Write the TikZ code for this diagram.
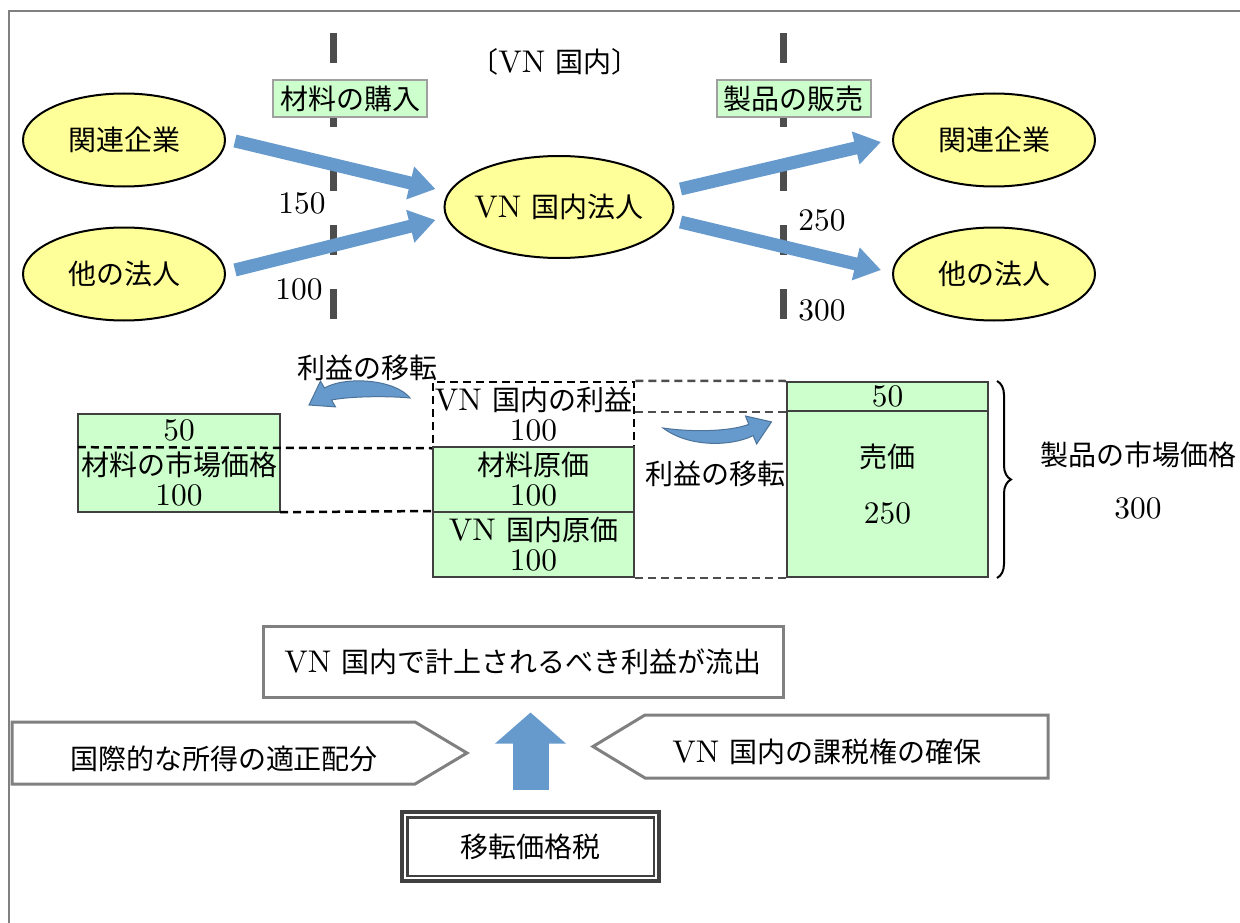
\documentclass[tikz,border=0pt]{standalone}
\usepackage{fontspec}
\setmainfont{lmroman10-regular.otf}[Scale=1.12]
\newfontfamily\jpfont{Noto Sans CJK JP}
\newcommand{\jp}[1]{{\jpfont #1}}
\usetikzlibrary{arrows.meta,positioning,shapes.geometric,calc,decorations.pathreplacing}
\definecolor{EntYellow}{HTML}{FFFF99}
\definecolor{CostGreen}{HTML}{CCFFCC}
\definecolor{FlowBlue}{HTML}{6699CC}
\definecolor{BarGray}{HTML}{4D4D4D}
\definecolor{TagGray}{HTML}{A0A0A0}
\definecolor{EdgeGray}{HTML}{808080}
\definecolor{BoxGray}{HTML}{404040}

\begin{document}
\begin{tikzpicture}[x=1pt, y=-1pt,
  font=\fontsize{28}{30}\selectfont,
  ent/.style={ellipse, draw=black, line width=2pt, fill=EntYellow, minimum width=202pt, minimum height=93pt, inner sep=0pt},
  tag/.style={draw=TagGray, line width=2pt, fill=CostGreen, minimum width=154pt, minimum height=37pt, inner sep=0pt},
  flow/.style={-{Triangle[length=26pt,width=32pt]}, line width=13pt, FlowBlue},
  divider/.style={BarGray, line width=7pt, dash pattern=on 30pt off 34pt},
  gbox/.style={fill=CostGreen, minimum width=201pt, inner sep=0pt, align=center},
  boxline/.style={draw=BoxGray, line width=2pt},
  gap/.style={dash pattern=on 8pt off 5pt, line width=2.5pt},
  curlarrow/.style={fill=FlowBlue, draw=FlowBlue!75!black, line width=1pt},
  pent/.style={fill=white, draw=EdgeGray, line width=3pt}
]
\useasboundingbox (0,0) rectangle (1240,923);
% frame
\draw[EdgeGray, line width=1.5pt] (9,923) -- (9,11) -- (1240,11);

% border lines
\draw[divider] (333,33) -- (333,325);
\draw[divider] (783,33) -- (783,325);
\node[tag] (buy) at (350,98.5) {\jp{材料の購入}};
\node[tag] (sell) at (793.5,98.5) {\jp{製品の販売}};
\node (dom) at (555,62) {\jp{〔}VN \jp{国内〕}};

% companies
\node[ent] (relL) at (124,140) {\jp{関連企業}};
\node[ent] (othL) at (124,274) {\jp{他の法人}};
\node[ent, minimum width=229pt, minimum height=102pt, inner xsep=-8pt] (vn) at (559,207) {VN \jp{国内法人}};
\node[ent] (relR) at (994,140) {\jp{関連企業}};
\node[ent] (othR) at (994,274) {\jp{他の法人}};

\draw[flow] ($(relL.east)+(9,1)$) -- ($(vn.west)+(-8,-18)$);
\draw[flow] ($(othL.east)+(9,-4)$) -- ($(vn.west)+(-8,13)$);
\draw[flow] ($(vn.east)+(6,-18)$) -- ($(relR.west)+(-11,2)$);
\draw[flow] ($(vn.east)+(6,15)$) -- ($(othR.west)+(-11,-4)$);

\node (p150) at (302,203) {150};
\node (p100) at (299,289) {100};
\node (p250) at (822,220) {250};
\node (p300) at (822,310) {300};

% price blocks
\node[gbox, minimum width=202pt, minimum height=33pt] (mat50) at (179,430.5) {50};
\node[gbox, minimum width=202pt, minimum height=65pt] (matmkt) at (179,479.5) {\jp{材料の市場価格}\\100};
\draw[boxline] (mat50.north west) rectangle (matmkt.south east);
\node[gbox, fill=none, draw=black, gap, minimum height=65pt] (vnprof) at (533.5,414.5) {VN \jp{国内の利益}\\100};
\node[gbox, boxline, minimum height=65pt] (matcost) at (533.5,479.5) {\jp{材料原価}\\100};
\node[gbox, boxline, minimum height=65pt] (vncost) at (533.5,544.5) {VN \jp{国内原価}\\100};
\node[gbox, boxline, minimum height=29pt] (sale50) at (887.5,396.5) {50};
\node[gbox, boxline, minimum height=166pt] (sale) at (887.5,494) {};
\node[align=center] (saletxt) at (887.5,484) {\jp{売価}\\[26pt]250};

\draw[gap] (mat50.south west) -- (vnprof.south west);
\draw[gap] (matmkt.south east) -- (vncost.north west);
\draw[gap, BarGray] (vnprof.north east) -- (sale50.north west);
\draw[gap, BarGray] (sale50.south west -| vnprof.east) -- (sale50.south west);
\draw[gap, BarGray] (vncost.south east) -- (sale.south west);

\draw[decorate, decoration={brace, amplitude=14pt}, line width=2pt] ($(sale50.north east)+(8,0)$) -- ($(sale.south east)+(8,0)$);
\node (mkt) at (1138,455) {\jp{製品の市場価格}};
\node (mktval) at (1138,508) {300};

% profit shift
\node (moveL) at (367,368) {\jp{利益の移転}};
\node (moveR) at (715,474) {\jp{利益の移転}};
\filldraw[curlarrow] (410,398) .. controls (395,379) and (345,376) .. (324.5,388) -- (320.5,381.1) -- (309,405) -- (335.5,406.9) -- (331.5,400) .. controls (352,396) and (390,396) .. (410,398) -- cycle;
\filldraw[curlarrow] (663,428) .. controls (688,447) and (730,447) .. (753.2,435.6) -- (756.6,444) -- (771.5,421.9) -- (745.5,416) -- (748.8,424.4) .. controls (728,432) and (690,432) .. (663,428) -- cycle;

% bottom
\node[draw=EdgeGray, line width=3pt, minimum width=520pt, minimum height=71pt] (outflow) at (523,661.5) {VN \jp{国内で計上されるべき利益が流出}};
\draw[pent] (12,722) -- (415,722) -- (467,753) -- (415,784) -- (12,784) -- cycle;
\node (fair) at (224,759) {\jp{国際的な所得の適正配分}};
\draw[pent] (593,746.5) -- (645,715) -- (1048,715) -- (1048,778) -- (645,778) -- cycle;
\node (taxright) at (827,752) {VN \jp{国内の課税権の確保}};
\node[draw=BoxGray, line width=3.5pt, minimum width=257pt, minimum height=69pt] (tax) at (530.5,846.5) {\jp{移転価格税}};
\draw[BoxGray, line width=2.5pt] ($(tax.north west)+(7,7)$) rectangle ($(tax.south east)+(-7,-7)$);
\draw[-{Triangle[length=31pt,width=69pt]}, line width=36pt, FlowBlue] ($(tax.north)+(0,-20)$) -- ($(tax.north |- outflow.south)+(0,14)$);
\end{tikzpicture}
\end{document}
